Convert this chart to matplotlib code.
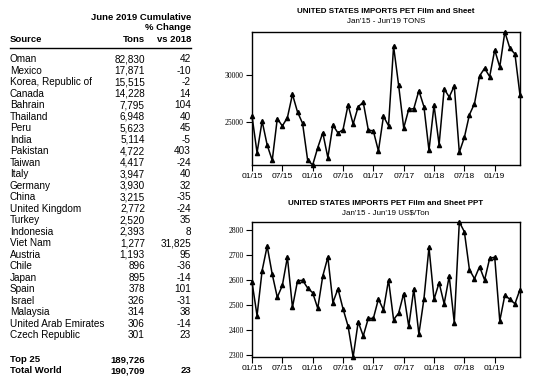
import numpy as np
import matplotlib.pyplot as plt

plt.rcParams['font.family'] = ['Liberation Sans', 'DejaVu Sans']

# table data
countries = ["Oman", "Mexico", "Korea, Republic of", "Canada", "Bahrain", "Thailand", "Peru",
             "India", "Pakistan", "Taiwan", "Italy", "Germany", "China", "United Kingdom",
             "Turkey", "Indonesia", "Viet Nam", "Austria", "Chile", "Japan", "Spain", "Israel",
             "Malaysia", "United Arab Emirates", "Czech Republic"]
tons = ["82,830", "17,871", "15,515", "14,228", "7,795", "6,948", "5,623", "5,114", "4,722",
        "4,417", "3,947", "3,930", "3,215", "2,772", "2,520", "2,393", "1,277", "1,193", "896",
        "895", "378", "326", "314", "306", "301"]
pct = ["42", "-10", "-2", "14", "104", "40", "45", "-5", "403", "-24", "40", "32", "-35", "-24",
       "35", "8", "31,825", "95", "-36", "-14", "101", "-31", "38", "-14", "23"]
totals = [("Top 25", "189,726", ""), ("Total World", "190,709", "23")]

# monthly series Jan'15 - Jun'19
months = np.arange(54)
tick_pos = np.arange(0, 54, 6)
tick_labels = ["01/15", "07/15", "01/16", "07/16", "01/17", "07/17", "01/18", "07/18", "01/19"]

volume = [25630, 21760, 25100, 22570, 20950, 25350, 24580, 25460, 27920, 26060,
          24860, 20990, 20460, 22290, 23870, 21230, 24680, 23840, 24190, 26800,
          24790, 26620, 27080, 24160, 24050, 21940, 25600, 24610, 33000, 28870,
          24370, 26340, 26410, 28310, 26620, 22010, 26760, 22610, 28490, 27640,
          28800, 21800, 23380, 25770, 26940, 29860, 30670, 29790, 32600, 30810,
          34500, 32780, 32180, 27820]

price = [2592, 2458, 2637, 2735, 2623, 2531, 2578, 2691, 2491, 2596,
         2599, 2568, 2549, 2487, 2616, 2691, 2510, 2565, 2485, 2416,
         2293, 2433, 2377, 2447, 2447, 2524, 2481, 2600, 2442, 2468,
         2546, 2415, 2564, 2384, 2524, 2730, 2523, 2589, 2505, 2615,
         2430, 2831, 2792, 2641, 2605, 2653, 2600, 2686, 2691, 2437,
         2539, 2523, 2505, 2562]

W, H = 536, 382
fig = plt.figure(figsize=(W / 100, H / 100), dpi=100)


def ftext(x, y, s, **kw):
    fig.text(x / W, 1 - y / H, s, va="center", **kw)


# table
fs = 7.2
hfs = 6.8
ftext(191, 17, "June 2019 Cumulative", ha="right", fontsize=hfs, fontweight="bold")
ftext(191, 28, "% Change", ha="right", fontsize=hfs, fontweight="bold")
ftext(10, 40, "Source", ha="left", fontsize=hfs, fontweight="bold")
ftext(145, 40, "Tons", ha="right", fontsize=hfs, fontweight="bold")
ftext(191, 40, "vs 2018", ha="right", fontsize=hfs, fontweight="bold")
fig.add_artist(plt.Line2D([10 / W, 191 / W], [1 - 47.5 / H, 1 - 47.5 / H], color="black", lw=1))

for i, (c, t, p) in enumerate(zip(countries, tons, pct)):
    y = 59 + i * 11.52
    ftext(10, y, c, ha="left", fontsize=fs)
    ftext(145, y, t, ha="right", fontsize=fs)
    ftext(191, y, p, ha="right", fontsize=fs)

for j, (c, t, p) in enumerate(totals):
    y = 359.5 + j * 11.3
    ftext(10, y, c, ha="left", fontsize=hfs, fontweight="bold")
    ftext(145, y, t, ha="right", fontsize=hfs, fontweight="bold")
    ftext(191, y, p, ha="right", fontsize=hfs, fontweight="bold")


def chart(top, bottom, values, yticks, title, subtitle, ty):
    ax = fig.add_axes([252 / W, 1 - bottom / H, (520 - 252) / W, (bottom - top) / H])
    ax.plot(months, values, color="black", lw=1.1, marker="^", ms=3.0, clip_on=False)
    ax.set_xlim(0, 53)
    ax.set_ylim(min(values), max(values))
    ax.set_xticks(tick_pos)
    ax.set_xticklabels(tick_labels, fontsize=6)
    ax.set_yticks(yticks)
    ax.set_yticklabels([str(v) for v in yticks], fontsize=5.5, family="Liberation Serif")
    ax.tick_params(direction="out", length=4, width=0.8, pad=2)
    for s in ax.spines.values():
        s.set_linewidth(1.0)
    ftext(386, ty, title, ha="center", fontsize=5.8, fontweight="bold")
    ftext(386, ty + 10, subtitle, ha="center", fontsize=5.8)
    return ax


chart(32, 165, volume, [25000, 30000],
      "UNITED STATES IMPORTS PET Film and Sheet", "Jan'15 - Jun'19 TONS", 11.3)
chart(222, 357, price, [2300, 2400, 2500, 2600, 2700, 2800],
      "UNITED STATES IMPORTS PET Film and Sheet PPT", "Jan'15 - Jun'19 US$/Ton", 203.3)

plt.savefig("out.png", dpi=100)
